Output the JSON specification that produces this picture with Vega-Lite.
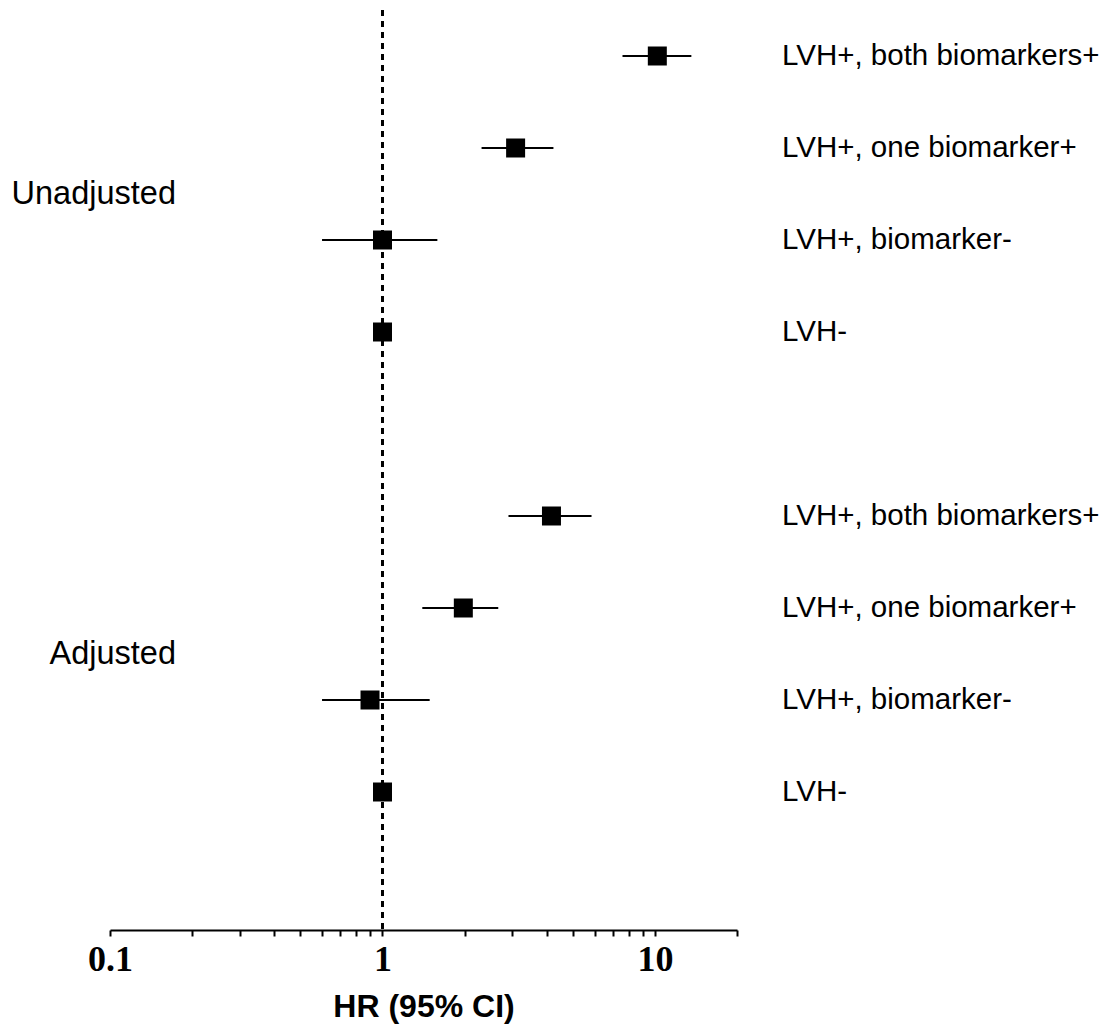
{
  "$schema": "https://vega.github.io/schema/vega-lite/v6.json",
  "width": 627,
  "height": 920,
  "autosize": {"type": "none"},
  "padding": {"left": 110, "top": 10, "right": 373, "bottom": 105},
  "background": "white",
  "config": {"view": {"stroke": null}},
  "datasets": {
    "rows": [
      {"row": 0, "label": "LVH+, both biomarkers+", "hr": 10.2, "lo": 7.6, "hi": 13.6},
      {"row": 1, "label": "LVH+, one biomarker+", "hr": 3.08, "lo": 2.31, "hi": 4.24},
      {"row": 2, "label": "LVH+, biomarker-", "hr": 1.0, "lo": 0.6, "hi": 1.59},
      {"row": 3, "label": "LVH-", "hr": 1.0, "lo": null, "hi": null},
      {"row": 5, "label": "LVH+, both biomarkers+", "hr": 4.17, "lo": 2.9, "hi": 5.85},
      {"row": 6, "label": "LVH+, one biomarker+", "hr": 1.98, "lo": 1.4, "hi": 2.66},
      {"row": 7, "label": "LVH+, biomarker-", "hr": 0.9, "lo": 0.6, "hi": 1.49},
      {"row": 8, "label": "LVH-", "hr": 1.0, "lo": null, "hi": null}
    ],
    "groups": [
      {"group": "Unadjusted", "row": 1.5},
      {"group": "Adjusted", "row": 6.5}
    ]
  },
  "layer": [
    {
      "data": {"name": "rows"},
      "mark": {"type": "rule", "color": "black", "strokeWidth": 2, "strokeDash": [6, 5]},
      "encoding": {
        "x": {
          "datum": 1,
          "type": "quantitative",
          "scale": {"type": "log", "domain": [0.1, 20], "nice": false},
          "axis": {
            "values": [0.1, 0.2, 0.3, 0.4, 0.5, 0.6, 0.7, 0.8, 0.9, 1, 2, 3, 4, 5, 6, 7, 8, 9, 10, 20],
            "labelExpr": "datum.value == 0.1 ? '0.1' : datum.value == 1 ? '1' : datum.value == 10 ? '10' : ''",
            "labelOverlap": false,
            "labelFlush": false,
            "labelBound": false,
            "labelFont": "Liberation Serif",
            "labelFontWeight": "bold",
            "labelFontSize": 36,
            "labelColor": "black",
            "labelPadding": 6,
            "domainColor": "black",
            "domainWidth": 2,
            "tickColor": "black",
            "tickWidth": 2,
            "tickSize": 6,
            "grid": false,
            "title": "HR (95% CI)",
            "titleFont": "Liberation Sans",
            "titleFontWeight": "bold",
            "titleFontSize": 32,
            "titleColor": "black",
            "titlePadding": 14
          }
        }
      }
    },
    {
      "data": {"name": "rows"},
      "mark": {"type": "rule", "color": "black", "strokeWidth": 2},
      "encoding": {
        "x": {"field": "lo", "type": "quantitative"},
        "x2": {"field": "hi"},
        "y": {
          "field": "row",
          "type": "quantitative",
          "scale": {"domain": [-0.5, 9.5], "reverse": true, "nice": false, "zero": false},
          "axis": null
        }
      }
    },
    {
      "data": {"name": "rows"},
      "mark": {"type": "point", "shape": "square", "filled": true, "color": "black", "size": 361, "opacity": 1},
      "encoding": {
        "x": {"field": "hr", "type": "quantitative"},
        "y": {"field": "row", "type": "quantitative"}
      }
    },
    {
      "data": {"name": "rows"},
      "mark": {"type": "text", "align": "left", "baseline": "middle", "dx": 45, "font": "Liberation Sans", "fontSize": 29.5, "color": "black"},
      "encoding": {
        "x": {"datum": 20, "type": "quantitative"},
        "y": {"field": "row", "type": "quantitative"},
        "text": {"field": "label"}
      }
    },
    {
      "data": {"name": "groups"},
      "mark": {"type": "text", "align": "right", "baseline": "middle", "dx": 66, "font": "Liberation Sans", "fontSize": 32.5, "color": "black"},
      "encoding": {
        "x": {"datum": 0.1, "type": "quantitative"},
        "y": {"field": "row", "type": "quantitative"},
        "text": {"field": "group"}
      }
    }
  ]
}
